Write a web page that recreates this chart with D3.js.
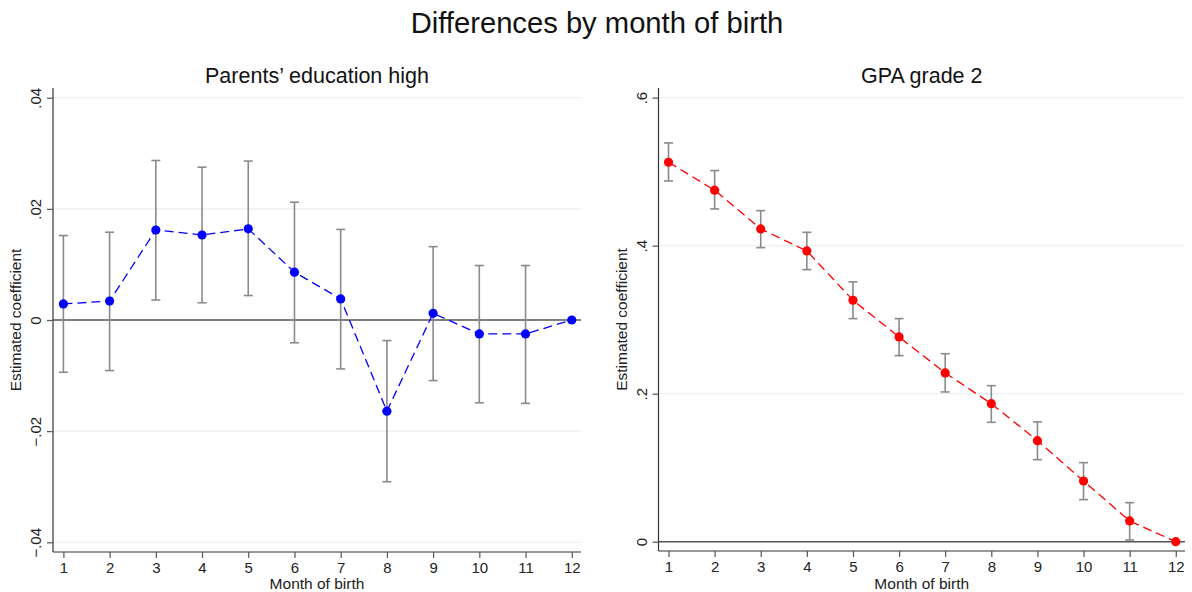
<!DOCTYPE html>
<html>
<head>
<meta charset="utf-8">
<script src="https://cdn.jsdelivr.net/npm/d3@7"></script>
<style>
  html, body { margin: 0; padding: 0; background: #fff; }
  svg { display: block; font-family: "Liberation Sans", Arial, sans-serif; }
</style>
</head>
<body>
<svg id="chart" width="1192" height="592"></svg>
<script>
// Month of birth (1..12); month 12 is the reference category
const months = [1, 2, 3, 4, 5, 6, 7, 8, 9, 10, 11, 12];

// Panel 1: Parents' education high
const eduCoef  = [0.0029, 0.0034, 0.0162, 0.0153, 0.0164, 0.0086, 0.0038, -0.0164, 0.0012, -0.0025, -0.0025, 0];
const eduUpper = [0.0152, 0.0158, 0.0287, 0.0275, 0.0286, 0.0212, 0.0163, -0.0037, 0.0132, 0.0098, 0.0098, null];
const eduLower = [-0.0094, -0.0091, 0.0036, 0.0031, 0.0044, -0.0041, -0.0088, -0.0291, -0.0109, -0.0149, -0.0150, null];
const eduTicks = [-0.04, -0.02, 0, 0.02, 0.04];
const eduTickLabels = ["\u2212.04", "\u2212.02", "0", ".02", ".04"];

// Panel 2: GPA grade 2
const gpaCoef  = [0.5127, 0.4749, 0.4226, 0.3928, 0.3262, 0.2766, 0.2280, 0.1865, 0.1365, 0.0820, 0.0280, 0];
const gpaUpper = [0.5388, 0.5014, 0.4473, 0.4180, 0.3510, 0.3014, 0.2540, 0.2108, 0.1618, 0.1068, 0.0527, null];
const gpaLower = [0.4874, 0.4496, 0.3973, 0.3676, 0.3014, 0.2514, 0.2023, 0.1613, 0.1108, 0.0568, 0.0023, null];
const gpaTicks = [0, 0.2, 0.4, 0.6];
const gpaTickLabels = ["0", ".2", ".4", ".6"];

const FONT = "Liberation Sans, Arial, sans-serif";
const svg = d3.select("#chart");

svg.append("text")
  .attr("x", 597).attr("y", 33)
  .attr("text-anchor", "middle")
  .attr("font-size", 29.2)
  .attr("fill", "#111")
  .text("Differences by month of birth");

function panel(cfg) {
  const g = svg.append("g");
  const x = d3.scaleLinear().domain(cfg.xDomain).range([cfg.left, cfg.right]);
  const y = d3.scaleLinear().domain(cfg.yDomain).range([cfg.bottom, cfg.top]);

  // panel title
  g.append("text")
    .attr("x", (cfg.left + cfg.right) / 2).attr("y", 83)
    .attr("text-anchor", "middle")
    .attr("font-size", 21.5)
    .attr("fill", "#111")
    .text(cfg.title);

  // horizontal gridlines
  g.append("g").selectAll("line").data(cfg.ticks.filter(t => t !== 0)).join("line")
    .attr("x1", cfg.left).attr("x2", cfg.right)
    .attr("y1", d => y(d)).attr("y2", d => y(d))
    .attr("stroke", "#e8f0f2").attr("stroke-width", 1.2);

  // zero reference line
  g.append("line")
    .attr("x1", cfg.left).attr("x2", cfg.right)
    .attr("y1", y(0)).attr("y2", y(0))
    .attr("stroke", "#555").attr("stroke-width", 1.5);

  // y axis
  const yAxis = d3.axisLeft(y).tickValues(cfg.ticks).tickSize(6)
    .tickFormat((d, i) => cfg.tickLabels[i]);
  const ya = g.append("g").attr("transform", `translate(${cfg.left},0)`).call(yAxis);
  ya.attr("font-family", FONT);
  ya.select(".domain").attr("stroke", "#333").attr("stroke-width", 1.2)
    .attr("d", `M0,${cfg.top}V${cfg.bottom}`);
  ya.selectAll(".tick line").attr("stroke", "#555").attr("stroke-width", 1.2);
  ya.selectAll(".tick text")
    .attr("font-size", 15).attr("fill", "#222")
    .attr("x", null)
    .attr("text-anchor", "middle")
    .attr("transform", "translate(-17,0) rotate(-90)")
    .attr("dy", "0.35em");

  // x axis
  const xAxis = d3.axisBottom(x).tickValues(months).tickSize(6).tickFormat(d3.format("d"));
  const xa = g.append("g").attr("transform", `translate(0,${cfg.bottom})`).call(xAxis);
  xa.attr("font-family", FONT);
  xa.select(".domain").attr("stroke", "#333").attr("stroke-width", 1.2)
    .attr("d", `M${cfg.left},0H${cfg.right}`);
  xa.selectAll(".tick line").attr("stroke", "#555").attr("stroke-width", 1.2);
  xa.selectAll(".tick text")
    .attr("font-size", 15).attr("fill", "#222")
    .attr("y", 21).attr("dy", null);

  // axis titles
  g.append("text")
    .attr("transform", `translate(${cfg.left - 37},${(cfg.top + cfg.bottom) / 2}) rotate(-90)`)
    .attr("text-anchor", "middle").attr("dy", "0.35em")
    .attr("font-size", 15.5).attr("fill", "#222")
    .text("Estimated coefficient");
  g.append("text")
    .attr("x", (cfg.left + cfg.right) / 2).attr("y", 589)
    .attr("text-anchor", "middle")
    .attr("font-size", 15.5).attr("fill", "#222")
    .text("Month of birth");

  const rows = months.map((m, i) => ({ m, c: cfg.coef[i], hi: cfg.upper[i], lo: cfg.lower[i] }));
  const ci = rows.filter(r => r.hi !== null);

  // confidence intervals
  const eb = g.append("g").attr("stroke", "#8a8a8a").attr("stroke-width", 1.6);
  eb.selectAll("line.v").data(ci).join("line").attr("class", "v")
    .attr("x1", d => x(d.m)).attr("x2", d => x(d.m))
    .attr("y1", d => y(d.hi)).attr("y2", d => y(d.lo));
  eb.selectAll("line.t").data(ci).join("line").attr("class", "t")
    .attr("x1", d => x(d.m) - 4.5).attr("x2", d => x(d.m) + 4.5)
    .attr("y1", d => y(d.hi)).attr("y2", d => y(d.hi));
  eb.selectAll("line.b").data(ci).join("line").attr("class", "b")
    .attr("x1", d => x(d.m) - 4.5).attr("x2", d => x(d.m) + 4.5)
    .attr("y1", d => y(d.lo)).attr("y2", d => y(d.lo));

  // connecting dashed line
  g.append("path").datum(rows)
    .attr("fill", "none").attr("stroke", cfg.color).attr("stroke-width", 1.3)
    .attr("stroke-dasharray", "9,5")
    .attr("d", d3.line().x(d => x(d.m)).y(d => y(d.c)));

  // point estimates
  g.append("g").selectAll("circle").data(rows).join("circle")
    .attr("cx", d => x(d.m)).attr("cy", d => y(d.c)).attr("r", 4.6)
    .attr("fill", cfg.color);
}

panel({
  title: "Parents\u2019 education high",
  left: 53, right: 581, top: 88, bottom: 552,
  xDomain: [0.775, 12.2], yDomain: [-0.04175, 0.04175],
  ticks: eduTicks, tickLabels: eduTickLabels,
  coef: eduCoef, upper: eduUpper, lower: eduLower,
  color: "#0000ff"
});

panel({
  title: "GPA grade 2",
  left: 658.5, right: 1185, top: 88, bottom: 551,
  xDomain: [0.783, 12.2], yDomain: [-0.0126, 0.613],
  ticks: gpaTicks, tickLabels: gpaTickLabels,
  coef: gpaCoef, upper: gpaUpper, lower: gpaLower,
  color: "#ff0000"
});
</script>
</body>
</html>
